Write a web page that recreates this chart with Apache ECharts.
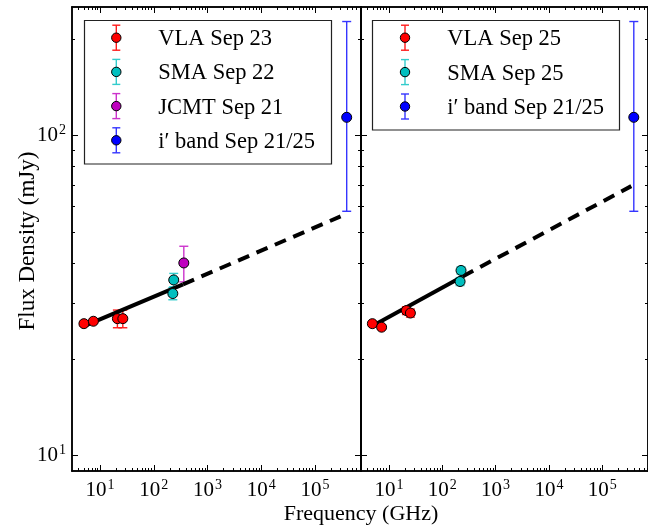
<!DOCTYPE html>
<html><head><meta charset="utf-8">
<script src="https://cdn.jsdelivr.net/npm/echarts@6/dist/echarts.min.js"></script>
<style>html,body{margin:0;padding:0;background:#fff}#c{width:648px;height:529px}</style>
</head><body><div id="c"></div><script>
const FONT = 'Liberation Serif';

// ---- axis extents & ticks ----
const X_MIN = 3, X_MAX = 7.2e5;
const Y_MIN = 8.96, Y_MAX = 252;
const xMajorTicks = [10, 100, 1000, 10000, 100000];
const xTickExponents = ['1', '2', '3', '4', '5'];
const xMinorTicks = [4, 5, 6, 7, 8, 9, 20, 30, 40, 50, 60, 70, 80, 90,
  200, 300, 400, 500, 600, 700, 800, 900, 2000, 3000, 4000, 5000, 6000, 7000, 8000, 9000,
  20000, 30000, 40000, 50000, 60000, 70000, 80000, 90000, 200000, 300000, 400000, 500000, 600000, 700000];
const yMajorTicks = [10, 100];
const yTickExponents = ['1', '2'];
const yMinorTicks = [20, 30, 40, 50, 60, 70, 80, 90, 200];

// ---- left panel data ----
const vlaLeftFreq = [5.0, 7.5, 21.0, 26.5];
const vlaLeftFlux = [25.85, 26.3, 26.8, 26.8];
const vlaLeftErr = [0.4, 0.4, 1.7, 1.7];
const smaLeftFreq = [235, 226];
const smaLeftFlux = [35.4, 32.1];
const smaLeftErr = [1.7, 1.4];
const jcmtLeftFreq = [362];
const jcmtLeftFlux = [40.0];
const jcmtLeftErr = [5.1];
const fitLeftSolidFreq = [5.0, 350];
const fitLeftSolidFlux = [25.4, 34.3];
const fitLeftDashFreq = [350, 3.0e5];
const fitLeftDashFlux = [34.3, 55.9];

// ---- right panel data ----
const vlaRightFreq = [4.9, 7.3, 21.3, 25.3];
const vlaRightFlux = [25.85, 25.2, 28.4, 27.9];
const vlaRightErr = [0.4, 0.4, 0.8, 0.8];
const smaRightFreq = [225, 216];
const smaRightFlux = [37.9, 35.0];
const smaRightErr = [1.0, 1.0];
const fitRightSolidFreq = [4.9, 241];
const fitRightSolidFlux = [25.4, 36.3];
const fitRightDashFreq = [241, 3.5e5];
const fitRightDashFlux = [36.3, 69.5];

// ---- optical (both panels) ----
const ibandFreq = [3.9e5];
const ibandFlux = [114];
const ibandLow = [58];
const ibandHigh = [227];

// ---- legends ----
const leftLegendNames = ['VLA Sep 23', 'SMA Sep 22', 'JCMT Sep 21', 'i\u2032 band Sep 21/25'];
const rightLegendNames = ['VLA Sep 25', 'SMA Sep 25', 'i\u2032 band Sep 21/25'];

const C = {
  red: {m: '#ff0000', e: '#ff1a1a'},
  cyan: {m: '#00bfbf', e: '#33cccc'},
  mag: {m: '#bf00bf', e: '#cc33cc'},
  blue: {m: '#0000ff', e: '#3535ff'}
};
const leftLegendColors = [C.red, C.cyan, C.mag, C.blue];
const rightLegendColors = [C.red, C.cyan, C.blue];

const rich = {
  b: {fontFamily: FONT, fontSize: 21, color: '#000', lineHeight: 24},
  s: {fontFamily: FONT, fontSize: 14, color: '#000', lineHeight: 14, verticalAlign: 'top', padding: [0, 0, 0, 1]}
};
function fmt(ticks, exps) {
  return function (v) {
    for (let i = 0; i < ticks.length; i++) {
      if (Math.abs(Math.log10(v) - Math.log10(ticks[i])) < 1e-6) return '{b|10}{s|' + exps[i] + '}';
    }
    return '';
  };
}
const lineStyleAxis = {color: '#000', width: 1.5};
function mkX(grid, pos, vals, len, labels) {
  return {
    type: 'log', logBase: 10, gridIndex: grid, position: pos, min: X_MIN, max: X_MAX,
    axisLine: {show: true, onZero: false, lineStyle: lineStyleAxis},
    axisTick: {show: true, inside: true, length: len, customValues: vals, lineStyle: {color: '#000', width: 1}},
    axisLabel: labels ? {show: true, customValues: vals, margin: 7, formatter: fmt(xMajorTicks, xTickExponents), rich: rich}
                      : {show: false},
    splitLine: {show: false}, minorTick: {show: false}
  };
}
function mkY(grid, pos, vals, len, labels) {
  return {
    type: 'log', logBase: 10, gridIndex: grid, position: pos, min: Y_MIN, max: Y_MAX,
    axisLine: {show: true, onZero: false, lineStyle: lineStyleAxis},
    axisTick: {show: true, inside: true, length: len, customValues: vals, lineStyle: {color: '#000', width: 1}},
    axisLabel: labels ? {show: true, customValues: vals, margin: 6, formatter: fmt(yMajorTicks, yTickExponents), rich: rich}
                      : {show: false},
    splitLine: {show: false}, minorTick: {show: false}
  };
}
const xAxes = [], yAxes = [];
[0, 1].forEach(function (g) {
  xAxes.push(mkX(g, 'bottom', xMajorTicks, 6, true));
  xAxes.push(mkX(g, 'bottom', xMinorTicks, 3, false));
  xAxes.push(mkX(g, 'top', xMajorTicks, 6, false));
  xAxes.push(mkX(g, 'top', xMinorTicks, 3, false));
  yAxes.push(mkY(g, 'left', yMajorTicks, 6, g === 0));
  yAxes.push(mkY(g, 'left', yMinorTicks, 3, false));
  yAxes.push(mkY(g, 'right', yMajorTicks, 6, false));
  yAxes.push(mkY(g, 'right', yMinorTicks, 3, false));
});

function pts(fx, fy) { return fx.map(function (f, i) { return [f, fy[i]]; }); }
function errData(fx, fy, lo, hi) {
  return fx.map(function (f, i) { return [f, fy[i] - lo[i], fy[i] + hi[i]]; });
}
function errRender(color) {
  return function (params, api) {
    const x = api.value(0), lo = api.value(1), hi = api.value(2);
    const p1 = api.coord([x, lo]), p2 = api.coord([x, hi]);
    const st = {stroke: color, lineWidth: 1.4};
    return {type: 'group', children: [
      {type: 'line', shape: {x1: p1[0], y1: p1[1], x2: p2[0], y2: p2[1]}, style: st},
      {type: 'line', shape: {x1: p1[0] - 4.5, y1: p1[1], x2: p1[0] + 4.5, y2: p1[1]}, style: st},
      {type: 'line', shape: {x1: p2[0] - 4.5, y1: p2[1], x2: p2[0] + 4.5, y2: p2[1]}, style: st}
    ]};
  };
}
const series = [];
function addPanel(axisIdx, groups, solid, dash) {
  series.push({type: 'line', xAxisIndex: axisIdx, yAxisIndex: axisIdx, data: solid, symbol: 'none', z: 3,
    lineStyle: {color: '#000', width: 4, cap: 'butt'}, silent: true});
  series.push({type: 'line', xAxisIndex: axisIdx, yAxisIndex: axisIdx, data: dash, symbol: 'none', z: 3,
    lineStyle: {color: '#000', width: 4, type: [12, 8], cap: 'butt'}, silent: true});
  groups.forEach(function (g) {
    series.push({type: 'custom', xAxisIndex: axisIdx, yAxisIndex: axisIdx, z: 2,
      data: errData(g.fx, g.fy, g.lo, g.hi), encode: {x: 0, y: [1, 2]}, renderItem: errRender(g.c.e), silent: true});
    series.push({type: 'scatter', xAxisIndex: axisIdx, yAxisIndex: axisIdx, z: 4, data: pts(g.fx, g.fy),
      symbol: 'circle', symbolSize: 10, itemStyle: {color: g.c.m, borderColor: '#000', borderWidth: 1, opacity: 1}, silent: true});
  });
}
const ibLo = ibandFlux.map(function (v, i) { return v - ibandLow[i]; });
const ibHi = ibandFlux.map(function (v, i) { return ibandHigh[i] - v; });
addPanel(0, [
  {fx: vlaLeftFreq, fy: vlaLeftFlux, lo: vlaLeftErr, hi: vlaLeftErr, c: C.red},
  {fx: smaLeftFreq, fy: smaLeftFlux, lo: smaLeftErr, hi: smaLeftErr, c: C.cyan},
  {fx: jcmtLeftFreq, fy: jcmtLeftFlux, lo: jcmtLeftErr, hi: jcmtLeftErr, c: C.mag},
  {fx: ibandFreq, fy: ibandFlux, lo: ibLo, hi: ibHi, c: C.blue}
], pts(fitLeftSolidFreq, fitLeftSolidFlux), pts(fitLeftDashFreq, fitLeftDashFlux));
addPanel(4, [
  {fx: vlaRightFreq, fy: vlaRightFlux, lo: vlaRightErr, hi: vlaRightErr, c: C.red},
  {fx: smaRightFreq, fy: smaRightFlux, lo: smaRightErr, hi: smaRightErr, c: C.cyan},
  {fx: ibandFreq, fy: ibandFlux, lo: ibLo, hi: ibHi, c: C.blue}
], pts(fitRightSolidFreq, fitRightSolidFlux), pts(fitRightDashFreq, fitRightDashFlux));

function legend(box, mx, tx, y0, dy, names, colors) {
  const els = [{type: 'rect', shape: {x: box[0], y: box[1], width: box[2], height: box[3]},
    style: {fill: '#fff', stroke: '#222', lineWidth: 1.2}, z: 10}];
  names.forEach(function (n, i) {
    const y = y0 + dy * i, col = colors[i];
    const st = {stroke: col.e, lineWidth: 1.4};
    els.push({type: 'line', shape: {x1: mx, y1: y - 12.5, x2: mx, y2: y + 12.5}, style: st, z: 11});
    els.push({type: 'line', shape: {x1: mx - 4, y1: y - 12.5, x2: mx + 4, y2: y - 12.5}, style: st, z: 11});
    els.push({type: 'line', shape: {x1: mx - 4, y1: y + 12.5, x2: mx + 4, y2: y + 12.5}, style: st, z: 11});
    els.push({type: 'circle', shape: {cx: mx, cy: y, r: 4.7}, style: {fill: col.m, stroke: '#000', lineWidth: 1}, z: 12});
    els.push({type: 'text', x: tx, y: y + 1.5, style: {text: n, fontFamily: FONT, fontSize: 22.5, fill: '#000',
      align: 'left', verticalAlign: 'middle'}, z: 12});
  });
  return els;
}
const graphics = [].concat(
  legend([84.5, 20.5, 247, 143.5], 116.3, 158.3, 37.7, 34.2, leftLegendNames, leftLegendColors),
  legend([372.5, 20.5, 247, 109.5], 405, 447.3, 37.7, 34.4, rightLegendNames, rightLegendColors),
  [
    {type: 'text', x: 361, y: 514.5, style: {text: 'Frequency (GHz)', fontFamily: FONT, fontSize: 22, fill: '#000',
      align: 'center', verticalAlign: 'middle'}},
    {type: 'text', x: 28, y: 241, rotation: Math.PI / 2, style: {text: 'Flux Density (mJy)', fontFamily: FONT, fontSize: 23,
      fill: '#000', align: 'center', verticalAlign: 'middle'}}
  ]
);

const chart = echarts.init(document.getElementById('c'), null, {renderer: 'canvas'});
chart.setOption({
  animation: false,
  backgroundColor: '#fff',
  grid: [
    {left: 72, top: 7, width: 289, height: 464, containLabel: false},
    {left: 361, top: 7, width: 289, height: 464, containLabel: false}
  ],
  xAxis: xAxes,
  yAxis: yAxes,
  series: series,
  graphic: graphics
});
</script></body></html>
